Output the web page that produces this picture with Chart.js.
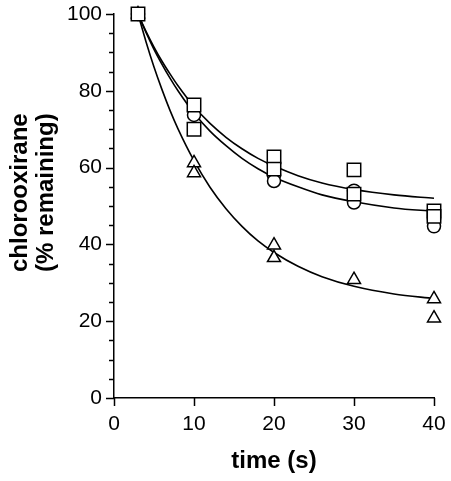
<!DOCTYPE html>
<html>
<head>
<meta charset="utf-8">
<script src="https://cdn.jsdelivr.net/npm/chart.js@4/dist/chart.umd.min.js"></script>
<style>
  html, body { margin: 0; padding: 0; background: #fff; overflow: hidden; }
  #wrap { width: 451px; height: 481px; position: relative; }
</style>
</head>
<body>
<div id="wrap"><canvas id="chart"></canvas></div>
<script>
// --- measured points ---
const squaresX = [3, 10, 10, 20, 20, 30, 30, 40, 40];
const squaresY = [100, 76.3, 70, 62.8, 59.6, 59.4, 53.1, 48.7, 47.3];
const circlesX = [3, 10, 20, 20, 30, 30, 40, 40];
const circlesY = [100, 73.7, 58, 56.5, 54, 50.9, 46.5, 44.7];
const trianglesX = [3, 10, 10, 20, 20, 30, 40, 40];
const trianglesY = [100, 61.2, 58.6, 39.8, 36.5, 30.8, 25.8, 20.8];

// --- fitted curves ---
const fitT = [3, 4, 5, 6, 7, 8, 10, 12, 14, 16, 18, 20, 23, 26, 30, 35, 40];
const fitSquares = [100, 95.5, 91.4, 87.7, 84.4, 81.3, 75.9, 71.5, 67.9, 64.9, 62.4, 60.4, 57.9, 56.0, 54.3, 52.9, 52.0];
const fitCircles = [100, 95.2, 90.8, 86.9, 83.3, 80.0, 74.2, 69.5, 65.7, 62.4, 59.7, 57.5, 55.0, 52.9, 51.1, 49.5, 48.6];
const fitTriangles = [100, 92.8, 86.2, 80.3, 74.9, 70.1, 61.8, 54.9, 49.3, 44.7, 40.9, 37.9, 34.3, 31.6, 29.1, 27.1, 25.9];

const xTicks = [0, 10, 20, 30, 40];
const yLabelTicks = [0, 20, 40, 60, 80, 100];

const FONT = '"Liberation Sans", Arial, sans-serif';

const pts = (xs, ys) => xs.map((x, i) => ({ x: x, y: ys[i] }));

function markerSet(label, xs, ys, style, radius) {
  return {
    label: label,
    data: pts(xs, ys),
    showLine: false,
    pointStyle: style,
    pointRadius: radius,
    pointHoverRadius: radius,
    pointBorderWidth: 1.5,
    pointBorderColor: '#000',
    pointBackgroundColor: '#fff',
    clip: false,
    order: 1
  };
}

function curveSet(label, ys) {
  return {
    label: label,
    data: pts(fitT, ys),
    showLine: true,
    borderColor: '#000',
    borderWidth: 1.6,
    pointRadius: 0,
    cubicInterpolationMode: 'monotone',
    fill: false,
    clip: false,
    order: 2
  };
}

// no extra room for edge labels, keep the plot box where the reference has it
function noPad(s) {
  s.paddingLeft = 0; s.paddingRight = 0; s.paddingTop = 0; s.paddingBottom = 0;
}

// --- tick marks: long at labels, short every 5 on y ---
const tickMarks = {
  id: 'tickMarks',
  afterDraw(chart) {
    const ctx = chart.ctx;
    const xs = chart.scales.x, ys = chart.scales.y;
    const area = chart.chartArea;
    ctx.save();
    ctx.strokeStyle = '#000';
    ctx.lineWidth = 1.5;
    ctx.beginPath();
    for (let v = 0; v <= 100; v += 5) {
      const py = Math.round(ys.getPixelForValue(v)) + 0.5;
      const len = yLabelTicks.includes(v) ? 8 : 5;
      ctx.moveTo(area.left - len, py);
      ctx.lineTo(area.left, py);
    }
    for (const v of xTicks) {
      const px = Math.round(xs.getPixelForValue(v)) + 0.5;
      ctx.moveTo(px, area.bottom);
      ctx.lineTo(px, area.bottom + 8);
    }
    ctx.stroke();
    ctx.restore();
  }
};

new Chart(document.getElementById('chart'), {
  type: 'scatter',
  data: {
    datasets: [
      markerSet('squares', squaresX, squaresY, 'rect', 9.5),
      markerSet('circles', circlesX, circlesY, 'circle', 6.5),
      markerSet('triangles', trianglesX, trianglesY, 'triangle', 7.5),
      curveSet('fit squares', fitSquares),
      curveSet('fit circles', fitCircles),
      curveSet('fit triangles', fitTriangles)
    ]
  },
  options: {
    responsive: true,
    maintainAspectRatio: false,
    animation: false,
    layout: { padding: { top: 14, right: 17, left: 0, bottom: 0 } },
    plugins: { legend: { display: false }, tooltip: { enabled: false } },
    scales: {
      x: {
        type: 'linear',
        min: 0, max: 40,
        afterFit: s => { s.height = 83; noPad(s); },
        afterBuildTicks: s => { s.ticks = xTicks.map(v => ({ value: v })); },
        grid: { display: false, drawTicks: false },
        border: { display: true, color: '#000', width: 1.5 },
        ticks: { color: '#000', padding: 14, font: { family: FONT, size: 21 } },
        title: {
          display: true,
          text: 'time (s)',
          color: '#000',
          font: { family: FONT, size: 24, weight: 'bold' },
          padding: { bottom: 5, top: 0 }
        }
      },
      y: {
        type: 'linear',
        min: 0, max: 100,
        afterFit: s => { s.width = 114; noPad(s); },
        afterBuildTicks: s => { s.ticks = yLabelTicks.map(v => ({ value: v })); },
        grid: { display: false, drawTicks: false },
        border: { display: true, color: '#000', width: 1.5 },
        ticks: { color: '#000', padding: 12, font: { family: FONT, size: 21 } },
        title: {
          display: true,
          text: ['    chlorooxirane', '    (% remaining)'],
          color: '#000',
          font: { family: FONT, size: 24, weight: 'bold', lineHeight: 1.1 },
          padding: { top: 7, bottom: 0 }
        }
      }
    }
  },
  plugins: [tickMarks]
});
</script>
</body>
</html>
